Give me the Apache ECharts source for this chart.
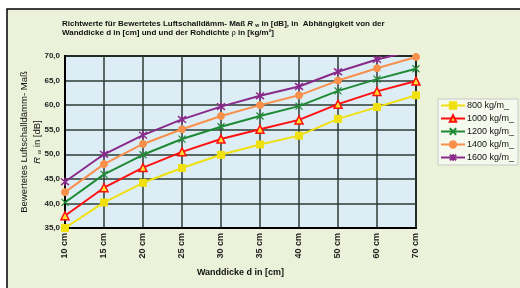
<!DOCTYPE html>
<html><head><meta charset="utf-8">
<script src="https://cdn.jsdelivr.net/npm/echarts@6/dist/echarts.min.js"></script>
<style>html,body{margin:0;padding:0;background:#fff;}#c{width:520px;height:288px;}</style>
</head><body><div id="c"></div>
<script>
const categories = ['10 cm','15 cm','20 cm','25 cm','30 cm','35 cm','40 cm','50 cm','60 cm','70 cm'];
const yTicks = [35,40,45,50,55,60,65,70];
const s800  = [35.0,40.2,44.2,47.2,49.9,52.0,53.8,57.2,59.6,62.0];
const s1000 = [37.5,43.2,47.3,50.5,53.1,55.1,57.0,60.2,62.8,64.9];
const s1200 = [40.2,45.9,49.9,53.1,55.6,57.8,59.8,62.9,65.3,67.4];
const s1400 = [42.3,48.0,52.1,55.1,57.8,60.0,62.0,65.0,67.5,69.8];
const s1600 = [44.4,50.0,53.9,57.1,59.7,61.9,63.8,66.8,69.3,71.2];
const seriesNames = ['800 kg/m_','1000 kg/m_','1200 kg/m_','1400 kg/m_','1600 kg/m_'];

const FONT = '"Liberation Sans", Arial, sans-serif';
const chart = echarts.init(document.getElementById('c'), null, {renderer:'canvas'});
const xPath = 'path://M0,0L10,10M10,0L0,10';
const starPath = 'path://M0,0L10,10M10,0L0,10M5,-1L5,11';
function mk(name, data, color, symbol, size, extra) {
  return Object.assign({
    name, type:'line', data, symbol, symbolSize:size, clip:true,
    lineStyle:{color, width:2},
    itemStyle:{color, borderColor:color, borderWidth:1},
    emphasis:{disabled:true}, z:3
  }, extra||{});
}
chart.setOption({
  animation:false,
  backgroundColor:'transparent',
  textStyle:{fontFamily:FONT},
  graphic:[{type:'rect', z:-10, silent:true,
    shape:{x:7, y:9, width:520, height:290},
    style:{fill:'#ecf2d9', stroke:'#000', lineWidth:1.5}}],
  title:{
    left:62, top:19, padding:0,
    text:'Richtwerte für Bewertetes Luftschalldämm- Maß {i|R} {s|w} in [dB], in  Abhängigkeit von der\nWanddicke d in [cm] und und der Rohdichte {r|ρ} in [kg/m²]',
    textStyle:{fontFamily:FONT, fontSize:8, fontWeight:'bold', color:'#111', lineHeight:9.5,
      rich:{
        i:{fontFamily:FONT, fontSize:8, fontStyle:'italic', fontWeight:'bold', color:'#111'},
        s:{fontFamily:FONT, fontSize:5, fontWeight:'bold', color:'#111', padding:[3,0,0,0]},
        r:{fontFamily:FONT, fontSize:7.5, fontWeight:'normal', color:'#111'}
      }}
  },
  legend:{
    orient:'vertical', left:438, top:99,
    itemWidth:24, itemHeight:8, itemGap:4,
    padding:[2,4,3,2],
    backgroundColor:'#f6f9ee', borderColor:'#c8c8c8', borderWidth:1,
    textStyle:{fontFamily:FONT, fontSize:9, color:'#111', padding:[0,0,0,-3]},
    data:seriesNames
  },
  grid:{left:65, right:104, top:56, bottom:60, show:true, backgroundColor:'#dcedf5', borderColor:'#000', borderWidth:2},
  xAxis:{
    type:'category', data:categories, boundaryGap:false,
    axisLine:{lineStyle:{color:'#000', width:2}},
    axisTick:{show:false},
    axisLabel:{rotate:90, fontFamily:FONT, fontSize:9, fontWeight:'bold', color:'#222', margin:5},
    splitLine:{show:true, lineStyle:{color:'#2d3b33', width:1.5}},
    name:'Wanddicke d in [cm]', nameLocation:'middle', nameGap:40,
    nameTextStyle:{fontFamily:FONT, fontSize:9, fontWeight:'bold', color:'#111'}
  },
  yAxis:{
    type:'value', min:35, max:70, interval:5,
    axisLine:{show:true, lineStyle:{color:'#000', width:2}},
    axisTick:{show:false},
    axisLabel:{fontFamily:FONT, fontSize:8, fontWeight:'bold', color:'#222', margin:5,
      formatter:v=>yTicks.includes(v)?v.toFixed(1).replace('.',','):''},
    splitLine:{show:true, lineStyle:{color:'#2d3b33', width:1.5}},
    name:'Bewertetes Luftschalldämm- Maß\n{i|R} {s|w} in [dB]', nameLocation:'middle', nameRotate:90, nameGap:21,
    nameMoveOverlap:false,
    nameTextStyle:{fontFamily:FONT, fontSize:9.5, color:'#111', lineHeight:13, align:'center',
      rich:{
        i:{fontFamily:FONT, fontSize:9.5, fontStyle:'italic', color:'#111'},
        s:{fontFamily:FONT, fontSize:6, color:'#111', padding:[4,0,0,0]}
      }}
  },
  series:[
    mk(seriesNames[0], s800, '#f0e010', 'rect', 7),
    mk(seriesNames[1], s1000, '#ff1010', 'triangle', 8, {itemStyle:{color:'#ffe030', borderColor:'#ff1010', borderWidth:1.5}}),
    mk(seriesNames[2], s1200, '#1e8a34', xPath, 7, {itemStyle:{color:'rgba(0,0,0,0)', borderColor:'#1e8a34', borderWidth:1.2}}),
    mk(seriesNames[3], s1400, '#f8904c', 'circle', 7),
    mk(seriesNames[4], s1600, '#8a2a8a', starPath, 8, {itemStyle:{color:'rgba(0,0,0,0)', borderColor:'#8a2a8a', borderWidth:1.5}})
  ]
});
</script></body></html>
